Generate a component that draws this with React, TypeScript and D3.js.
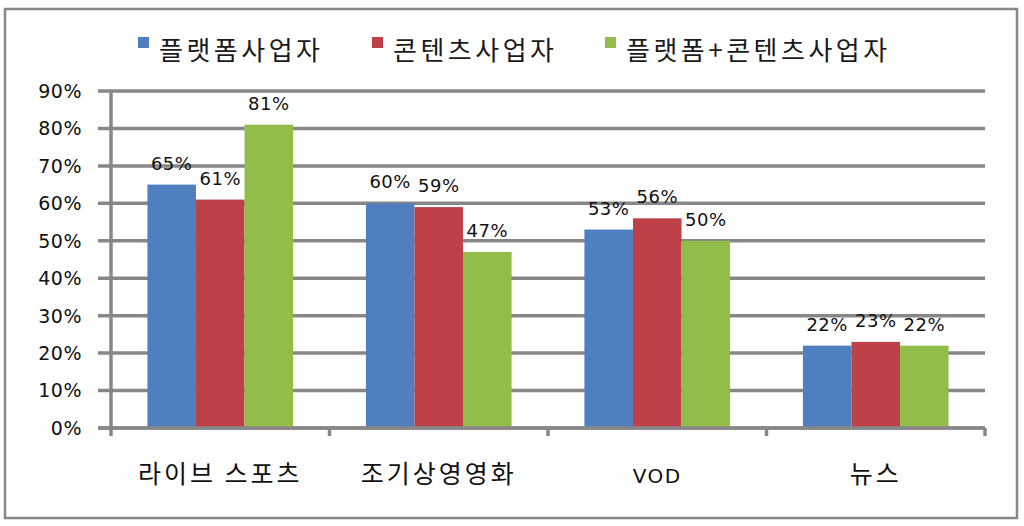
import { useMemo } from "react";
import * as d3 from "d3";

const categories = ["라이브 스포츠", "조기상영영화", "VOD", "뉴스"];
const seriesNames = ["플랫폼사업자", "콘텐츠사업자", "플랫폼+콘텐츠사업자"];
const seriesColors = ["#4F7FBE", "#BE4049", "#93BD4B"];
const platform = [65, 60, 53, 22];
const content = [61, 59, 56, 23];
const both = [81, 47, 50, 22];
const yTicks = [0, 10, 20, 30, 40, 50, 60, 70, 80, 90];

const W = 1024;
const H = 526;
const KR = "'Noto Sans CJK KR', 'Noto Sans', sans-serif";
const NUM = "'DejaVu Sans', Verdana, sans-serif";
const GRID = "#878787";

export default function App() {
  const margin = { top: 91, right: 39, bottom: 98, left: 111 };
  const innerW = W - margin.left - margin.right;
  const innerH = H - margin.top - margin.bottom;

  const series = [platform, content, both];

  const x = useMemo(
    () => d3.scaleBand<string>().domain(categories).range([0, innerW]).paddingInner(0).paddingOuter(0),
    [innerW],
  );
  const xInner = useMemo(
    () =>
      d3
        .scaleBand<string>()
        .domain(seriesNames)
        .range([0, x.bandwidth()])
        .paddingInner(0)
        .paddingOuter(0.75),
    [x],
  );
  const y = useMemo(() => d3.scaleLinear().domain([0, 90]).range([innerH, 0]), [innerH]);

  // legend x positions
  const legendX = [138, 372, 605];

  return (
    <div style={{ position: "fixed", left: 0, top: 0 }}>
      <svg width={W} height={H} style={{ display: "block", background: "#fff" }}>
        {/* outer frame */}
        <rect x={5} y={9} width={1012} height={509} fill="#fff" stroke={GRID} strokeWidth={2.5} />

        {/* legend */}
        {seriesNames.map((name, i) => (
          <g key={name} transform={`translate(${legendX[i]}, 37)`}>
            <rect width={11} height={11} fill={seriesColors[i]} />
            <text
              x={21}
              y={23}
              fontFamily={KR}
              fontSize={26}
              letterSpacing={3.5}
              fill="#1a1a1a"
            >
              {name}
            </text>
          </g>
        ))}

        <g transform={`translate(${margin.left}, ${margin.top})`}>
          {/* gridlines + y ticks */}
          {yTicks.map((t) => (
            <g key={t} transform={`translate(0, ${y(t)})`}>
              <line x1={-13} x2={innerW} stroke={GRID} strokeWidth={3.5} />
              <text
                x={-29}
                dy="0.36em"
                textAnchor="end"
                fontFamily={NUM}
                fontSize={19}
                letterSpacing={0.5}
                fill="#111"
              >
                {t}%
              </text>
            </g>
          ))}

          {/* bars */}
          {categories.map((c, ci) => (
            <g key={c} transform={`translate(${x(c)}, 0)`}>
              {series.map((vals, si) => (
                <rect
                  key={si}
                  x={xInner(seriesNames[si])}
                  y={y(vals[ci])}
                  width={xInner.bandwidth()}
                  height={innerH - y(vals[ci])}
                  fill={seriesColors[si]}
                />
              ))}
              {series.map((vals, si) => (
                <text
                  key={"l" + si}
                  x={(xInner(seriesNames[si]) ?? 0) + xInner.bandwidth() / 2}
                  y={y(vals[ci]) - 15}
                  textAnchor="middle"
                  fontFamily={NUM}
                  fontSize={18}
                  letterSpacing={0.5}
                  fill="#111"
                >
                  {vals[ci]}%
                </text>
              ))}
            </g>
          ))}

          {/* axes */}
          <line x1={0} x2={0} y1={0} y2={innerH + 8} stroke={GRID} strokeWidth={3.5} />
          <line x1={-13} x2={innerW} y1={innerH} y2={innerH} stroke={GRID} strokeWidth={3.5} />
          {categories.map((c) => (
            <line
              key={"t" + c}
              x1={(x(c) ?? 0) + x.bandwidth()}
              x2={(x(c) ?? 0) + x.bandwidth()}
              y1={innerH}
              y2={innerH + 8}
              stroke={GRID}
              strokeWidth={3.5}
            />
          ))}

          {/* category labels */}
          {categories.map((c) => (
            <text
              key={"c" + c}
              x={(x(c) ?? 0) + x.bandwidth() / 2}
              y={innerH + 55}
              textAnchor="middle"
              fontFamily={c === "VOD" ? NUM : KR}
              fontSize={c === "VOD" ? 20 : 25}
              letterSpacing={c === "VOD" ? 1.5 : 3}
              fill="#111"
            >
              {c}
            </text>
          ))}
        </g>
      </svg>
    </div>
  );
}
